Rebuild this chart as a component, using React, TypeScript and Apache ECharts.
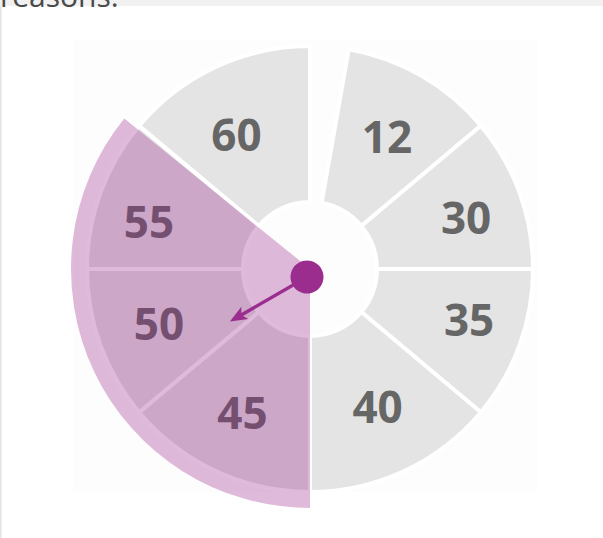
import React, { useEffect, useRef } from "react";
import * as echarts from "echarts";

// ---- data ----
const sectorLabels = ["", "12", "30", "35", "40", "45", "50", "55", "60"];
const sectorSpans = [10, 40, 40, 40, 50, 50, 40, 40, 50]; // degrees, clockwise from 12 o'clock
const highlightSpans = [180, 129, 51]; // before, highlighted, after (degrees)
const highlightOn = [false, true, false];
const needleMax = 60;
const needleValue = 40;
const captionText = "reasons.";

// ---- styles ----
const GRAY = "#e4e4e4";
const TEXT_GRAY = "#666666";
const OVERLAY = "rgba(148, 26, 135, 0.3)";
const ACCENT = "#9a2d8e";
const labelNudge: [number, number][] = [
  [0, 0],
  [3, -5],
  [17, -1],
  [20, -1],
  [5, 3],
  [-5, 9],
  [-12, 3],
  [-22, 3],
  [-11, -1],
];

export default function App() {
  const ref = useRef<HTMLDivElement>(null);

  useEffect(() => {
    document.body.style.margin = "0";
    if (!ref.current) return;
    const chart = echarts.init(ref.current, undefined, { renderer: "svg" });

    const baseData = sectorLabels.map((name, i) => {
      const isGap = name === "";
      return {
        name,
        value: sectorSpans[i],
        itemStyle: isGap
          ? { color: "transparent", borderWidth: 0 }
          : { color: GRAY, borderColor: "#ffffff", borderWidth: 4 },
        label: { show: !isGap },
      };
    });

    const overlayData = highlightSpans.map((v, i) => ({
      name: "h" + i,
      value: v,
      itemStyle: { color: highlightOn[i] ? OVERLAY : "transparent" },
    }));

    chart.setOption({
      animation: false,
      backgroundColor: "#ffffff",
      graphic: [
        { type: "rect", shape: { x: 73, y: 40, width: 464, height: 452 }, style: { fill: "#fdfdfd" }, z: -10 },
        { type: "rect", shape: { x: 0, y: 0, width: 603, height: 6 }, style: { fill: "#f1f1f1" }, z: -5 },
        { type: "rect", shape: { x: 0, y: 6, width: 1.5, height: 532 }, style: { fill: "#e4e4e4" }, z: -5 },
        {
          type: "text",
          x: 0,
          y: -5,
          style: {
            text: captionText,
            font: "30px 'Open Sans'",
            fill: "#4a4a4a",
            verticalAlign: "middle",
            align: "left",
          },
          z: -4,
        },
      ],
      series: [
        {
          type: "pie",
          z: 2,
          silent: true,
          center: [310, 269],
          radius: [67, 223],
          startAngle: 90,
          clockwise: true,
          avoidLabelOverlap: false,
          emphasis: { disabled: true },
          labelLine: { show: false },
          label: {
            show: true,
            position: "inside",
            formatter: "{b}",
            fontFamily: "'Open Sans'",
            fontWeight: "bold",
            fontSize: 44,
            color: TEXT_GRAY,
          },
          labelLayout: (params: any) => {
            const n = labelNudge[params.dataIndex] || [0, 0];
            return { dx: n[0], dy: n[1] };
          },
          data: baseData,
        },
        {
          type: "pie",
          z: 3,
          silent: true,
          center: [310, 269],
          radius: [0, 239],
          startAngle: 90,
          clockwise: true,
          emphasis: { disabled: true },
          label: { show: false },
          labelLine: { show: false },
          data: overlayData,
        },
        {
          type: "gauge",
          z: 4,
          silent: true,
          center: [307, 277],
          radius: 90,
          startAngle: 90,
          endAngle: -270,
          min: 0,
          max: needleMax,
          axisLine: { show: false },
          splitLine: { show: false },
          axisTick: { show: false },
          axisLabel: { show: false },
          progress: { show: false },
          title: { show: false },
          detail: { show: false },
          pointer: {
            show: true,
            icon: "path://M7 0 L14 17 L8.7 14 L8.7 88 L5.3 88 L5.3 14 L0 17 Z",
            length: 89,
            width: 14,
            offsetCenter: [0, 0],
            keepAspect: false,
            itemStyle: { color: ACCENT },
          },
          anchor: {
            show: true,
            showAbove: true,
            size: 33,
            itemStyle: { color: ACCENT },
          },
          data: [{ value: needleValue }],
        },
      ],
    });

    return () => chart.dispose();
  }, []);

  return (
    <div
      ref={ref}
      style={{ position: "fixed", left: 0, top: 0, width: 603, height: 538 }}
    />
  );
}
